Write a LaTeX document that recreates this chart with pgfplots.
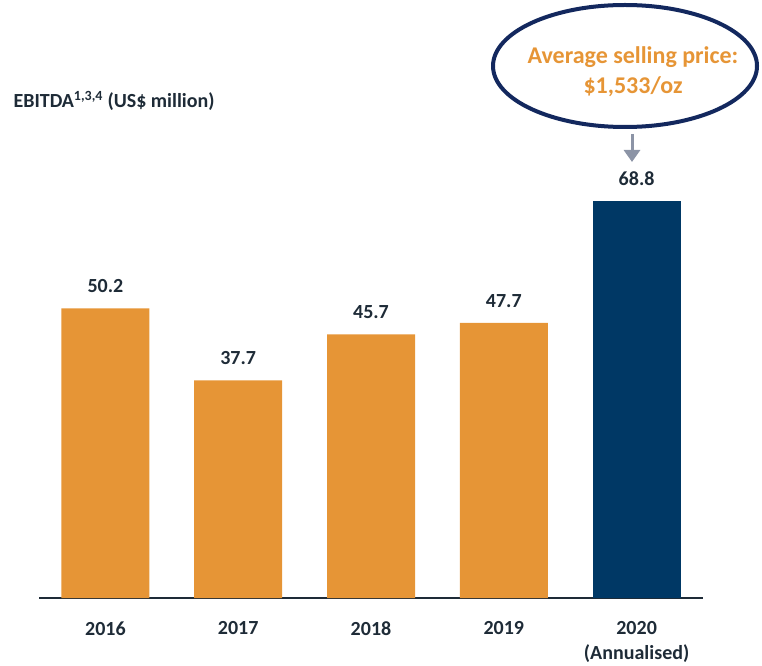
\documentclass[border=0pt]{standalone}
\usepackage{fontspec}
\setmainfont{Carlito}
\usepackage{pgfplots}
\pgfplotsset{compat=1.18}
\usetikzlibrary{arrows.meta}
\definecolor{barorange}{HTML}{E69536}
\definecolor{barnavy}{HTML}{003865}
\definecolor{txt}{HTML}{1E2B37}
\definecolor{ellnavy}{HTML}{13285E}
\definecolor{arrgray}{HTML}{8C94A6}
\begin{document}
\begin{tikzpicture}[x=1pt,y=1pt]
\useasboundingbox (0,0) rectangle (762,665);
\begin{axis}[
  at={(39pt,67pt)}, anchor=south west,
  scale only axis, width=664pt, height=461.6pt,
  xmin=-0.5, xmax=4.5, ymin=0, ymax=80,
  axis x line=bottom, axis y line=none,
  axis line style={draw=txt, line width=1.5pt, -},
  xtick={0,1,2,3,4},
  xticklabels={2016,2017,2018,2019,{2020\\(Annualised)}},
  xticklabel style={font=\fontsize{20}{25}\selectfont\bfseries, text=txt, align=center, yshift=-20pt},
  major tick length=0pt,
  ytick=\empty,
  ybar, bar width=88pt, bar shift=0pt,
  nodes near coords,
  nodes near coords style={font=\fontsize{20}{24}\selectfont\bfseries, text=txt, yshift=12pt,
    /pgf/number format/.cd, fixed, fixed zerofill, precision=1, assume math mode=true},
  clip=false,
]
\addplot[fill=barorange, draw=none] coordinates {(0,50.2) (1,37.7) (2,45.7) (3,47.7)};
\addplot[fill=barnavy, draw=none] coordinates {(4,68.8)};
\end{axis}
\node[anchor=west, text=txt, font=\fontsize{20}{24}\selectfont\bfseries] at (10,564) {EBITDA\textsuperscript{1,3,4} (US\$ million)};
\draw[ellnavy, line width=4pt] (625,599) ellipse [x radius=132, y radius=61];
\node[text=barorange, align=center, font=\fontsize{24}{30}\selectfont\bfseries] at (633,593) {Average selling price:\\\$1,533/oz};
\draw[arrgray, line width=3pt, -{Triangle[length=12pt,width=16pt]}] (632,531) -- (632,503);
\end{tikzpicture}
\end{document}
